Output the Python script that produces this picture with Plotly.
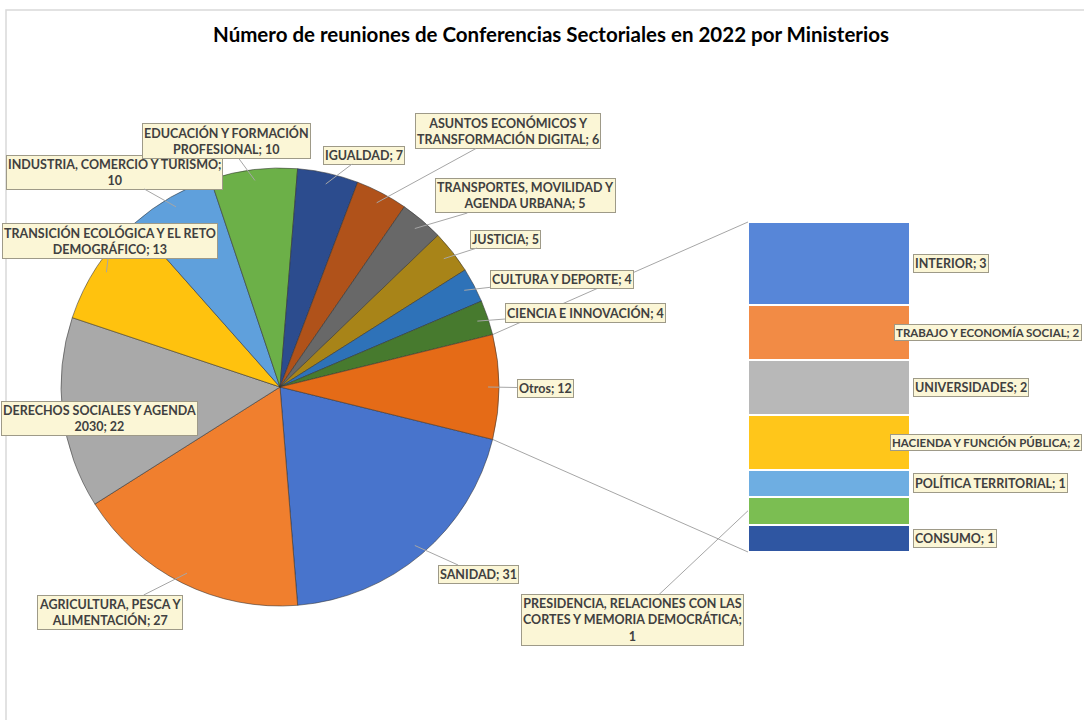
import math
import plotly.graph_objects as go

# ---------------- data ----------------
pie_labels = [
    "SANIDAD", "AGRICULTURA, PESCA Y ALIMENTACIÓN", "DERECHOS SOCIALES Y AGENDA 2030",
    "TRANSICIÓN ECOLÓGICA Y EL RETO DEMOGRÁFICO", "INDUSTRIA, COMERCIO Y TURISMO",
    "EDUCACIÓN Y FORMACIÓN PROFESIONAL", "IGUALDAD", "ASUNTOS ECONÓMICOS Y TRANSFORMACIÓN DIGITAL",
    "TRANSPORTES, MOVILIDAD Y AGENDA URBANA", "JUSTICIA", "CULTURA Y DEPORTE", "CIENCIA E INNOVACIÓN",
]
pie_values = [31, 27, 22, 13, 10, 10, 7, 6, 5, 5, 4, 4]

bar_labels = [
    "INTERIOR", "TRABAJO Y ECONOMÍA SOCIAL", "UNIVERSIDADES", "HACIENDA Y FUNCIÓN PÚBLICA",
    "POLÍTICA TERRITORIAL", "PRESIDENCIA, RELACIONES CON LAS CORTES Y MEMORIA DEMOCRÁTICA", "CONSUMO",
]
bar_values = [3, 2, 2, 2, 1, 1, 1]
other_label = "Otros"

# label display text (line breaks as in the reference)
pie_label_text = [
    "SANIDAD; {}", "AGRICULTURA, PESCA Y<br>ALIMENTACIÓN; {}", "DERECHOS SOCIALES Y AGENDA<br>2030; {}",
    "TRANSICIÓN ECOLÓGICA Y EL RETO<br>DEMOGRÁFICO; {}", "INDUSTRIA, COMERCIO Y TURISMO;<br>{}",
    "EDUCACIÓN Y FORMACIÓN<br>PROFESIONAL; {}", "IGUALDAD; {}", "ASUNTOS ECONÓMICOS Y<br>TRANSFORMACIÓN DIGITAL; {}",
    "TRANSPORTES, MOVILIDAD Y<br>AGENDA URBANA; {}", "JUSTICIA; {}", "CULTURA Y DEPORTE; {}",
    "CIENCIA E INNOVACIÓN; {}", "Otros; {}",
]
bar_label_text = [
    "INTERIOR; {}", "TRABAJO Y ECONOMÍA SOCIAL; {}", "UNIVERSIDADES; {}", "HACIENDA Y FUNCIÓN PÚBLICA; {}",
    "POLÍTICA TERRITORIAL; {}", "PRESIDENCIA, RELACIONES CON LAS<br>CORTES Y MEMORIA DEMOCRÁTICA;<br>{}",
    "CONSUMO; {}",
]

# ---------------- style ----------------
pie_colors = ["#4874CC", "#F07F2E", "#A9A9A9", "#FFC20E", "#5FA0DC", "#6CB048",
              "#2C4C8E", "#B0521A", "#686868", "#A88418", "#2E72B8", "#477A2E", "#E56B17"]
bar_colors = ["#5786D8", "#F28B45", "#B8B8B8", "#FFC61A", "#6EAEE2", "#7BBE52", "#2F56A2"]

W, H = 1084, 720
PCX, PCY, PR = 280, 387, 219          # pie center / radius in px
BX0, BX1, BY0, BY1 = 748, 910, 222, 552  # bar box in px

pie_box = [(478, 574), (110, 612), (99, 418), (110, 241), (114, 172), (226, 141), (364, 155),
           (508, 131), (525, 196), (505, 239), (562, 279), (585, 313), (545, 388)]
bar_box_left = 913
bar_box_right = 1082
long_bar_labels = {1, 3}   # labels right-aligned to the chart edge so they stay visible
pres_box = (632, 620)

total_other = sum(bar_values)
all_labels = pie_labels + [other_label]
all_values = pie_values + [total_other]
total = sum(all_values)
other_deg = 360 * total_other / total
rotation = 90 + other_deg / 2

FONT = "Lato"
FS = 12.5
FS_LONG = 11.5
LBL_COLOR = "#404040"
BOX_BG = "#FBF6D6"
BOX_BORDER = "#9E9A88"

fig = go.Figure()

fig.add_trace(go.Pie(
    labels=all_labels, values=all_values, sort=False, direction="clockwise",
    rotation=rotation, textinfo="none", hoverinfo="label+value",
    marker=dict(colors=pie_colors, line=dict(color="rgba(50,50,50,0.55)", width=1)),
    domain=dict(x=[(PCX - PR) / W, (PCX + PR) / W], y=[(H - PCY - PR) / H, (H - PCY + PR) / H]),
    showlegend=False,
))

# stacked bar (bottom to top)
for lab, val, col in reversed(list(zip(bar_labels, bar_values, bar_colors))):
    fig.add_trace(go.Bar(
        x=[0], y=[val], name=lab, width=1, xaxis="x2", yaxis="y2",
        marker=dict(color=col, line=dict(color="white", width=2)),
        hovertemplate=lab + ": %{y}<extra></extra>", showlegend=False,
    ))

def px_to_paper(px, py):
    return px / W, 1 - py / H

def pie_point(angle_deg, rfac):
    a = math.radians(angle_deg)
    return PCX + PR * rfac * math.sin(a), PCY - PR * rfac * math.cos(a)

annotations = []
# pie labels
cum = rotation
for i, (lab, val) in enumerate(zip(all_labels, all_values)):
    deg = 360 * val / total
    mid = cum + deg / 2
    cum += deg
    tx, ty = pie_point(mid, 0.95)
    bx, by = pie_box[i]
    x, y = px_to_paper(tx, ty)
    annotations.append(dict(
        x=x, y=y, xref="paper", yref="paper", ax=bx - tx, ay=by - ty,
        text="<b>" + pie_label_text[i].format(val) + "</b>", showarrow=True,
        arrowhead=0, arrowwidth=1, arrowcolor="#A6A6A6",
        font=dict(family=FONT, size=FS, color=LBL_COLOR), align="center",
        bgcolor=BOX_BG, bordercolor=BOX_BORDER, borderwidth=1, borderpad=1,
    ))

# bar labels
unit = (BY1 - BY0) / sum(bar_values)
top = BY0
for i, (lab, val) in enumerate(zip(bar_labels, bar_values)):
    mid_py = top + unit * val / 2
    top += unit * val
    if i == 5:
        tx, ty = BX0, mid_py
        bx, by = pres_box
        x, y = px_to_paper(tx, ty)
        annotations.append(dict(
            x=x, y=y, xref="paper", yref="paper", ax=bx - tx, ay=by - ty,
            text="<b>" + bar_label_text[i].format(val) + "</b>", showarrow=True,
            arrowhead=0, arrowwidth=1, arrowcolor="#A6A6A6",
            font=dict(family=FONT, size=FS, color=LBL_COLOR), align="center",
            bgcolor=BOX_BG, bordercolor=BOX_BORDER, borderwidth=1, borderpad=1,
        ))
    elif i in long_bar_labels:
        x, y = px_to_paper(bar_box_right, mid_py)
        annotations.append(dict(
            x=x, y=y, xref="paper", yref="paper", xanchor="right", yanchor="middle",
            text="<b>" + bar_label_text[i].format(val) + "</b>", showarrow=False,
            font=dict(family=FONT, size=FS_LONG, color=LBL_COLOR),
            bgcolor=BOX_BG, bordercolor=BOX_BORDER, borderwidth=1, borderpad=1,
        ))
    else:
        x, y = px_to_paper(bar_box_left, mid_py)
        annotations.append(dict(
            x=x, y=y, xref="paper", yref="paper", xanchor="left", yanchor="middle",
            text="<b>" + bar_label_text[i].format(val) + "</b>", showarrow=False,
            font=dict(family=FONT, size=FS, color=LBL_COLOR),
            bgcolor=BOX_BG, bordercolor=BOX_BORDER, borderwidth=1, borderpad=1,
        ))

# connector lines pie -> bar
shapes = []
p_top = pie_point(rotation - other_deg, 1.0)
p_bot = pie_point(rotation, 1.0)
for (px, py), (qx, qy) in [(p_top, (BX0, BY0)), (p_bot, (BX0, BY1))]:
    x0, y0 = px_to_paper(px, py)
    x1, y1 = px_to_paper(qx, qy)
    shapes.append(dict(type="line", xref="paper", yref="paper", x0=x0, y0=y0, x1=x1, y1=y1,
                       line=dict(color="#A6A6A6", width=1), layer="below"))
# chart border
shapes.append(dict(type="rect", xref="paper", yref="paper", x0=6 / W, y0=-0.02, x1=1.02, y1=1 - 10 / H,
                   line=dict(color="#D9D9D9", width=1.5), layer="below"))

fig.update_layout(
    width=W, height=H, autosize=False,
    margin=dict(l=0, r=0, t=0, b=0),
    paper_bgcolor="white", plot_bgcolor="rgba(0,0,0,0)",
    barmode="stack", bargap=0,
    title=dict(text="<b>Número de reuniones de Conferencias Sectoriales en 2022 por Ministerios</b>",
               x=551 / W, xanchor="center", y=1 - 35 / H, yanchor="middle",
               font=dict(family=FONT, size=20.5, color="black")),
    xaxis=dict(visible=False),
    yaxis=dict(visible=False),
    xaxis2=dict(domain=[BX0 / W, BX1 / W], range=[-0.5, 0.5], visible=False, anchor="y2", fixedrange=True),
    yaxis2=dict(domain=[1 - BY1 / H, 1 - BY0 / H], range=[0, sum(bar_values)], visible=False,
                anchor="x2", fixedrange=True),
    annotations=annotations,
    shapes=shapes,
)

fig.write_html(
    "out.html",
    config={"displayModeBar": False},
    post_script="document.body.style.margin='0';document.body.style.overflow='hidden';",
)
